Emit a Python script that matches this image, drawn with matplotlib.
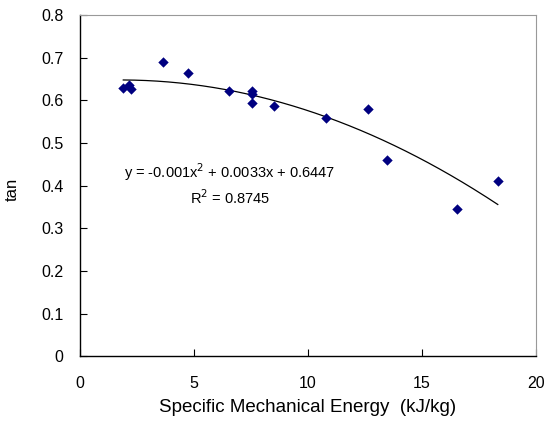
import matplotlib
matplotlib.use("Agg")
import matplotlib.pyplot as plt
import numpy as np

plt.rcParams['font.family'] = ['Liberation Sans', 'DejaVu Sans']

sme = [1.90, 2.15, 2.24, 3.65, 4.75, 6.53, 7.56, 7.56, 7.56, 8.52, 10.78, 12.62, 13.49, 16.56, 18.33]
tan = [0.630, 0.637, 0.627, 0.690, 0.664, 0.621, 0.622, 0.616, 0.595, 0.588, 0.559, 0.579, 0.461, 0.345, 0.410]
eq_text = "y = -0.001x$^2$ + 0.0033x + 0.6447"
r2_text = "R$^2$ = 0.8745"
xticks = [0, 5, 10, 15, 20]
yticks = [0, 0.1, 0.2, 0.3, 0.4, 0.5, 0.6, 0.7, 0.8]

fig = plt.figure(figsize=(5.44, 4.21), dpi=100)
ax = fig.add_axes([0.147, 0.154, 0.838, 0.810])

coef = np.polyfit(sme, tan, 2)
xs = np.linspace(min(sme), max(sme), 200)
ax.plot(xs, np.polyval(coef, xs), color='black', lw=0.9)
ax.scatter(sme, tan, marker='D', s=28, color='#000080', zorder=3, linewidths=0)

ax.set_xlim(0, 20)
ax.set_ylim(0, 0.8)
ax.set_xticks(xticks)
ax.set_yticks(yticks)
ax.set_xticklabels([str(t) for t in xticks])
ax.set_yticklabels(['0' if t == 0 else f"{t:.1f}" for t in yticks])
ax.tick_params(direction='in', length=5, width=0.8, labelsize=11.5, colors='black')
ax.tick_params(axis='x', pad=14)
ax.tick_params(axis='y', pad=12)

for s in ['top', 'right']:
    ax.spines[s].set_color('#999999')
    ax.spines[s].set_linewidth(0.8)
for s in ['left', 'bottom']:
    ax.spines[s].set_color('black')
    ax.spines[s].set_linewidth(1.0)

ax.text(6.58, 0.432, eq_text, ha='center', va='center', fontsize=10.5)
ax.text(6.58, 0.372, r2_text, ha='center', va='center', fontsize=10.5)

ax.set_xlabel("Specific Mechanical Energy  (kJ/kg)", fontsize=13.5, labelpad=6)
ax.set_ylabel("tan", fontsize=12, va='center')
ax.yaxis.set_label_coords(-0.148, 0.49)

fig.savefig("out.png", dpi=100)
